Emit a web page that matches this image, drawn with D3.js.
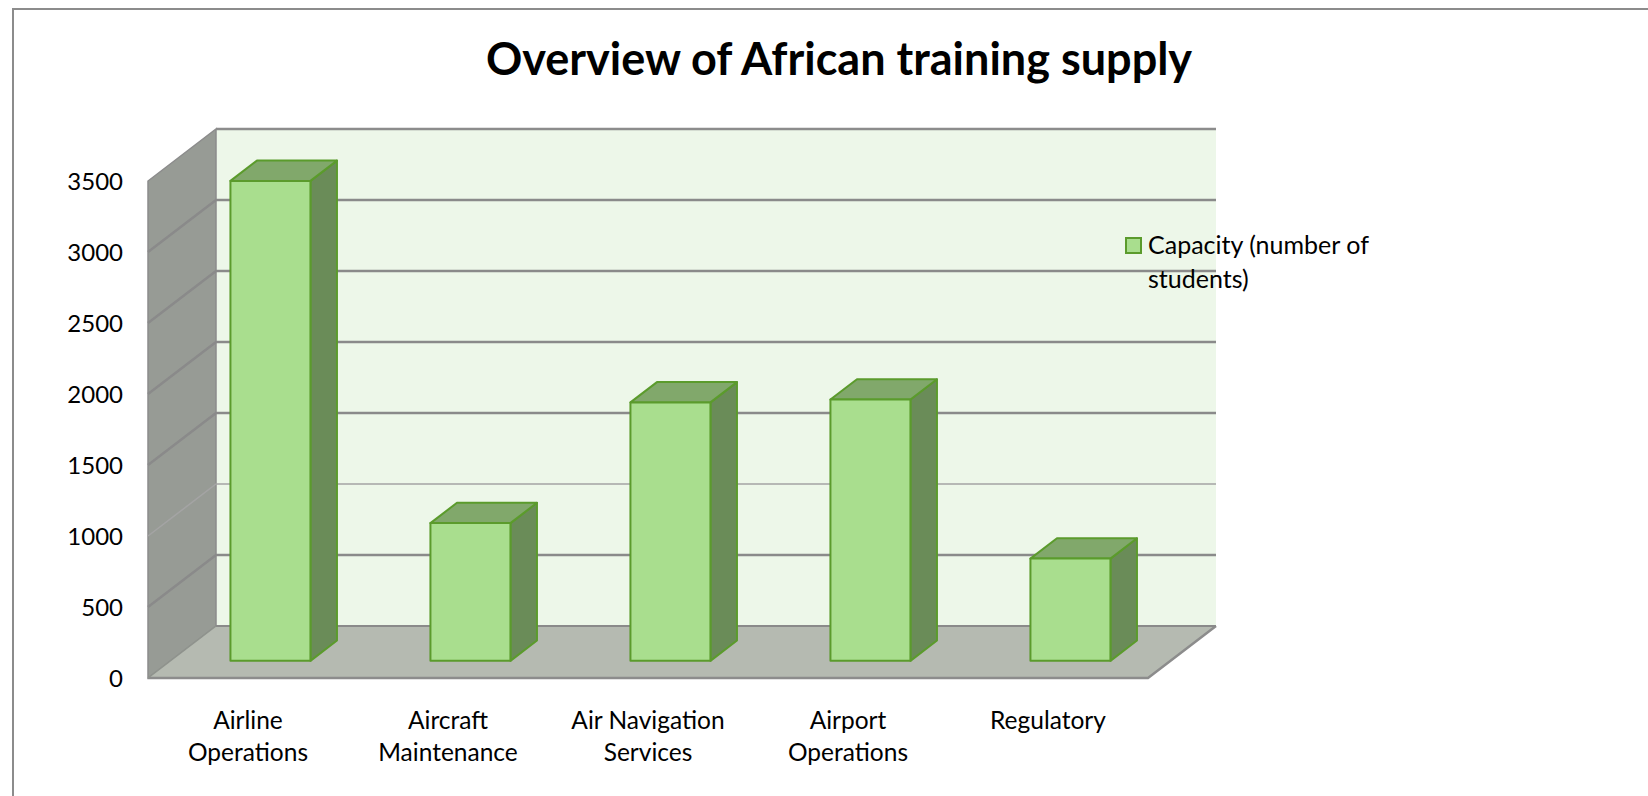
<!DOCTYPE html>
<html>
<head>
<meta charset="utf-8">
<script src="https://cdn.jsdelivr.net/npm/d3@7"></script>
<style>
  body { margin: 0; background: #fff; }
  svg { display: block; font-family: Lato, "Open Sans", sans-serif; }
</style>
</head>
<body>
<script>
/* chart data */
var categories = ["Airline Operations", "Aircraft Maintenance", "Air Navigation Services", "Airport Operations", "Regulatory"]
var capacity = [3380, 970, 1820, 1840, 720]
var yTicks = [0, 500, 1000, 1500, 2000, 2500, 3000, 3500]
var seriesName = ["Capacity (number of", "students)"]

var width = 1648, height = 796
var depthX = 68, depthY = 52      // oblique offset of the back wall
var barFront = 0.33, barBack = 0.72  // bar depth as fraction of the box

var svg = d3.select("body").append("svg")
    .attr("width", width)
    .attr("height", height)

var x = d3.scaleBand()
    .domain(categories)
    .range([148, 1148])

var y = d3.scaleLinear()
    .domain([0, 3500])
    .range([678, 181])

function P(xv, v, d) {
    return [xv + d * depthX, y(v) - d * depthY]
}
function poly(pts) {
    return "M" + pts.map(function(p) { return p.join(",") }).join("L") + "Z"
}

var xLeft = x.range()[0], xRight = x.range()[1], yMax = y.domain()[1]

/* outer frame */
svg.append("path")
    .attr("d", "M13,796 L13,9 L1648,9")
    .attr("fill", "none")
    .attr("stroke", "#8c8c8c")
    .attr("stroke-width", 2)

/* title */
svg.append("text")
    .attr("x", 839)
    .attr("y", 75)
    .attr("text-anchor", "middle")
    .attr("font-size", "45px")
    .attr("font-weight", "bold")
    .attr("fill", "#000")
    .text("Overview of African training supply")

/* back wall */
svg.append("path")
    .attr("d", poly([P(xLeft, 0, 1), P(xRight, 0, 1), P(xRight, yMax, 1), P(xLeft, yMax, 1)]))
    .attr("fill", "#edf7e9")

svg.append("line")
    .attr("x1", P(xLeft, yMax, 1)[0]).attr("y1", P(xLeft, yMax, 1)[1])
    .attr("x2", P(xRight, yMax, 1)[0]).attr("y2", P(xRight, yMax, 1)[1])
    .attr("stroke", "#8c8c8c").attr("stroke-width", 2.5)

/* side wall */
svg.append("path")
    .attr("d", poly([P(xLeft, 0, 0), P(xLeft, yMax, 0), P(xLeft, yMax, 1), P(xLeft, 0, 1)]))
    .attr("fill", "#979b95")
    .attr("stroke", "#8c8c8c")
    .attr("stroke-width", 1.5)

/* floor */
svg.append("path")
    .attr("d", poly([P(xLeft, 0, 0), P(xRight, 0, 0), P(xRight, 0, 1), P(xLeft, 0, 1)]))
    .attr("fill", "#b5bab1")
svg.append("path")
    .attr("d", "M" + P(xLeft, 0, 0).join(",") + "L" + P(xRight, 0, 0).join(",") + "L" + P(xRight, 0, 1).join(","))
    .attr("fill", "none")
    .attr("stroke", "#8c8c8c")
    .attr("stroke-width", 2.5)
svg.append("line")
    .attr("x1", P(xLeft, 0, 1)[0]).attr("y1", P(xLeft, 0, 1)[1])
    .attr("x2", P(xRight, 0, 1)[0]).attr("y2", P(xRight, 0, 1)[1])
    .attr("stroke", "#8a8a8a").attr("stroke-width", 2)
svg.append("line")
    .attr("x1", P(xLeft, 0, 0)[0]).attr("y1", P(xLeft, 0, 0)[1])
    .attr("x2", P(xLeft, 0, 1)[0]).attr("y2", P(xLeft, 0, 1)[1])
    .attr("stroke", "#8f938d").attr("stroke-width", 1.5)

/* gridlines on side and back wall */
var grid = svg.append("g")
grid.selectAll("path")
    .data(yTicks.filter(function(v) { return v > 0 && v < yMax }))
    .enter()
    .append("path")
    .attr("d", function(v) {
        return "M" + P(xLeft, v, 0).join(",") + "L" + P(xLeft, v, 1).join(",") + "L" + P(xRight, v, 1).join(",")
    })
    .attr("fill", "none")
    .attr("stroke", function(v) { return v == 1000 ? "#a4a4a4" : "#8a8a8a" })
    .attr("stroke-width", function(v) { return v == 1000 ? 1.5 : 2.5 })

/* y axis labels */
var yAxis = d3.axisLeft(y)
    .tickValues(yTicks)
    .tickFormat(d3.format("d"))
    .tickSize(0)
    .tickPadding(25)

var gy = svg.append("g")
    .attr("transform", "translate(" + xLeft + ",0)")
    .call(yAxis)
gy.select(".domain").remove()
gy.selectAll("text")
    .attr("font-family", "Lato, sans-serif")
    .attr("font-size", "24px")
    .attr("fill", "#000")
    .attr("dy", "0.36em")

/* bars */
var bw = x.bandwidth() * 0.4
function barLeft(i) { return x(categories[i]) + (x.bandwidth() - bw) / 2 }

var bars = svg.selectAll(".bar")
    .data(capacity)
    .enter()
    .append("g")
    .attr("class", "bar")
    .attr("stroke", "#5b9b2c")
    .attr("stroke-width", 2)
    .attr("stroke-linejoin", "round")

bars.append("path")
    .attr("d", function(d, i) {
        var b = barLeft(i) + bw
        return poly([P(b, 0, barFront), P(b, 0, barBack), P(b, d, barBack), P(b, d, barFront)])
    })
    .attr("fill", "#6a8c58")

bars.append("path")
    .attr("d", function(d, i) {
        var a = barLeft(i), b = a + bw
        return poly([P(a, d, barFront), P(b, d, barFront), P(b, d, barBack), P(a, d, barBack)])
    })
    .attr("fill", "#81a86b")

bars.append("path")
    .attr("d", function(d, i) {
        var a = barLeft(i), b = a + bw
        return poly([P(a, 0, barFront), P(b, 0, barFront), P(b, d, barFront), P(a, d, barFront)])
    })
    .attr("fill", "#a9de8e")

/* category labels, wrapped */
var labels = svg.selectAll(".cat")
    .data(categories)
    .enter()
    .append("text")
    .attr("class", "cat")
    .attr("text-anchor", "middle")
    .attr("font-size", "24.5px")
    .attr("fill", "#000")

labels.each(function(c) {
    var t = d3.select(this)
    var cx = x(c) + x.bandwidth() / 2
    var words = c.split(" ")
    var lines = [words[0]]
    for (var k = 1; k < words.length; k++) {
        var test = lines[lines.length - 1] + " " + words[k]
        t.text(test)
        if (this.getComputedTextLength() > 185) lines.push(words[k])
        else lines[lines.length - 1] = test
    }
    t.text(null)
    lines.forEach(function(l, j) {
        t.append("tspan").attr("x", cx).attr("y", 729 + j * 32).text(l)
    })
})

/* legend */
var legend = svg.append("g")
legend.append("rect")
    .attr("x", 1126).attr("y", 238)
    .attr("width", 15).attr("height", 15)
    .attr("fill", "#a9de8e")
    .attr("stroke", "#5b9b2c")
    .attr("stroke-width", 2)
var lt = legend.append("text")
    .attr("font-size", "25px")
    .attr("fill", "#000")
lt.selectAll("tspan")
    .data(seriesName)
    .enter()
    .append("tspan")
    .attr("x", 1148)
    .attr("y", function(d, i) { return 254 + i * 34 })
    .text(function(d) { return d })
</script>
</body>
</html>
